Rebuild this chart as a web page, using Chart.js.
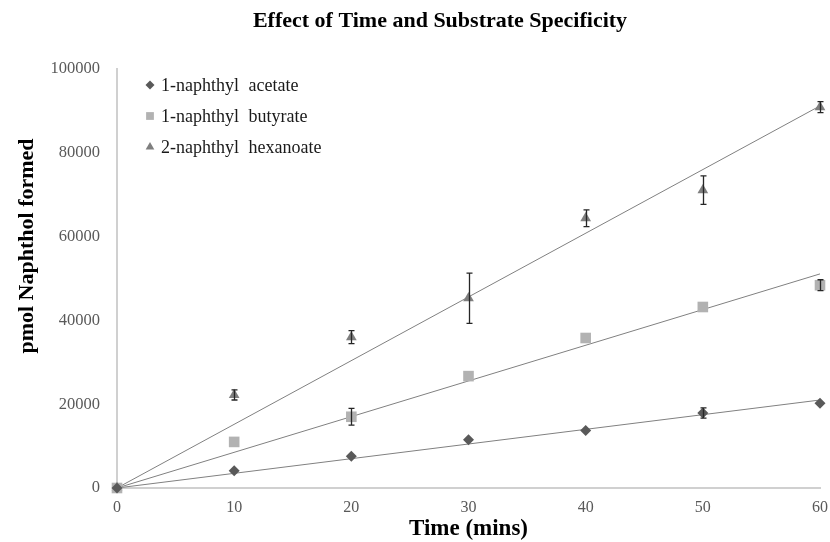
<!DOCTYPE html>
<html><head><meta charset="utf-8">
<script src="https://cdn.jsdelivr.net/npm/chart.js@4.4.1/dist/chart.umd.min.js"></script>
<style>html,body{margin:0;padding:0;background:#fff;} canvas{display:block;}</style>
</head><body>
<canvas id="c" width="830" height="542"></canvas>
<script>
// ---- data ----
const times = [0, 10, 20, 30, 40, 50, 60];
const acetate      = [0, 4100, 7600, 11500, 13700, 17900, 20200];
const acetateErr   = [0, 0, 0, 0, 0, 1200, 0];
const butyrate     = [0, 11000, 17000, 26700, 35800, 43200, 48400];
const butyrateErr  = [0, 0, 2000, 0, 0, 0, 1300];
const hexanoate    = [0, 22200, 36000, 45300, 64400, 71100, 90900];
const hexanoateErr = [0, 1200, 1550, 6000, 2000, 3400, 1300];
const trendTimes     = [0, 60];
const acetateTrend   = [0, 21000];
const butyrateTrend  = [0, 51100];
const hexanoateTrend = [0, 91200];
const seriesNames = ['1-naphthyl acetate', '1-naphthyl butyrate', '2-naphthyl hexanoate'];
const chartTitle = 'Effect of Time and Substrate Specificity';
const xTitle = 'Time (mins)';
const yTitle = 'pmol Naphthol formed';
const xTickValues = [0, 10, 20, 30, 40, 50, 60];
const yTickValues = [0, 20000, 40000, 60000, 80000, 100000];

const SERIF = "'Liberation Serif', 'Times New Roman', serif";
const pts = (xs, ys) => xs.map((x, i) => ({x: x, y: ys[i]}));

function markerDs(label, data, err, style, color, radius) {
  return {
    label: label, data: pts(times, data), errorBars: err,
    showLine: false, pointStyle: style, pointRadius: radius, pointHoverRadius: radius,
    pointBackgroundColor: color, pointBorderColor: color, pointBorderWidth: 0,
    backgroundColor: color, borderColor: color, order: 1, clip: false, isMarker: true
  };
}
function trendDs(data) {
  return {
    label: '', data: pts(trendTimes, data), showLine: true, pointRadius: 0,
    borderColor: '#808080', borderWidth: 1, fill: false, order: 5, clip: false
  };
}

const datasets = [
  markerDs(seriesNames[0], acetate, acetateErr, 'rectRot', '#595959', 5.5),
  markerDs(seriesNames[1], butyrate, butyrateErr, 'rect', '#b2b2b2', 7.5),
  markerDs(seriesNames[2], hexanoate, hexanoateErr, 'triangle', '#7f7f7f', 6.2),
  trendDs(acetateTrend), trendDs(butyrateTrend), trendDs(hexanoateTrend)
];

const errorBarPlugin = {
  id: 'errorBars',
  afterDatasetsDraw(chart) {
    const ctx = chart.ctx, xs = chart.scales.x, ys = chart.scales.y;
    ctx.save();
    ctx.strokeStyle = '#262626';
    ctx.lineWidth = 1.3;
    chart.data.datasets.forEach(ds => {
      if (!ds.errorBars) return;
      ds.data.forEach((p, i) => {
        const e = ds.errorBars[i];
        if (!e) return;
        const px = Math.round(xs.getPixelForValue(p.x)) + 0.5;
        const top = ys.getPixelForValue(p.y + e), bot = ys.getPixelForValue(p.y - e);
        ctx.beginPath();
        ctx.moveTo(px, top); ctx.lineTo(px, bot);
        ctx.moveTo(px - 3, top); ctx.lineTo(px + 3, top);
        ctx.moveTo(px - 3, bot); ctx.lineTo(px + 3, bot);
        ctx.stroke();
      });
    });
    ctx.restore();
  }
};

const legendPlugin = {
  id: 'innerLegend',
  afterDraw(chart) {
    const ctx = chart.ctx;
    const x0 = 150, y0 = 85, dy = 31;
    ctx.save();
    chart.data.datasets.filter(d => d.isMarker).forEach((ds, i) => {
      const y = y0 + i * dy;
      const r = ds.pointStyle === 'rect' ? 5.5 : ds.pointStyle === 'triangle' ? 5 : 4.5;
      ctx.fillStyle = ds.pointBackgroundColor;
      ctx.strokeStyle = ds.pointBackgroundColor;
      ctx.lineWidth = 0.01;
      Chart.helpers.drawPoint(ctx, {pointStyle: ds.pointStyle, radius: r, rotation: 0, borderWidth: 0}, x0, y);
      ctx.fillStyle = '#1a1a1a';
      ctx.font = '18px ' + SERIF;
      if ('wordSpacing' in ctx) ctx.wordSpacing = '5px';
      ctx.textBaseline = 'middle';
      ctx.textAlign = 'left';
      ctx.fillText(ds.label, x0 + 11, y + 1);
    });
    ctx.restore();
  }
};

const textPlugin = {
  id: 'titles',
  afterDraw(chart) {
    const ctx = chart.ctx;
    ctx.save();
    ctx.fillStyle = '#000';
    ctx.textAlign = 'center';
    ctx.textBaseline = 'middle';
    ctx.font = 'bold 22px ' + SERIF;
    ctx.fillText(chartTitle, 440, 21);
    ctx.translate(27, 246);
    ctx.rotate(-Math.PI / 2);
    ctx.font = 'bold 22px ' + SERIF;
    ctx.fillText(yTitle, 0, 0);
    ctx.restore();
  }
};

new Chart(document.getElementById('c'), {
  type: 'scatter',
  data: { datasets: datasets },
  options: {
    responsive: false,
    animation: false,
    devicePixelRatio: 1,
    layout: { padding: { left: 0, right: 10, top: 69, bottom: 0 } },
    plugins: {
      legend: { display: false },
      tooltip: { enabled: false },
      title: { display: false }
    },
    scales: {
      x: {
        type: 'linear', min: 0, max: 60,
        afterBuildTicks: s => { s.ticks = xTickValues.map(v => ({value: v})); },
        afterFit: s => { s.height = 54; s.paddingLeft = 0; s.paddingRight = 0; },
        grid: { display: false },
        border: { display: true, color: '#d0d0d0', width: 2 },
        ticks: { color: '#595959', font: { family: SERIF, size: 16 }, padding: 2, maxRotation: 0 },
        title: { display: true, text: xTitle, color: '#000',
                 font: { family: SERIF, size: 23, weight: 'bold', lineHeight: 1.1 },
                 padding: { top: 0, bottom: 0 } }
      },
      y: {
        type: 'linear', min: 0, max: 100000,
        afterBuildTicks: s => { s.ticks = yTickValues.map(v => ({value: v})); },
        afterFit: s => { s.width = 117; s.paddingTop = 0; s.paddingBottom = 0; },
        grid: { display: false },
        border: { display: true, color: '#d0d0d0', width: 2 },
        ticks: { color: '#595959', font: { family: SERIF, size: 16.5 }, padding: 9,
                 callback: v => String(v) }
      }
    }
  },
  plugins: [errorBarPlugin, legendPlugin, textPlugin]
});
</script>
</body></html>
